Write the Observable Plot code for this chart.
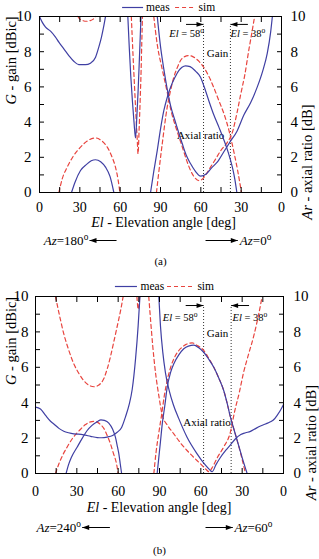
<!DOCTYPE html>
<html>
<head>
<meta charset="utf-8">
<script src="https://cdn.jsdelivr.net/npm/d3@7"></script>
<script src="https://cdn.jsdelivr.net/npm/@observablehq/plot@0.6"></script>
<style>
  html, body { margin: 0; padding: 0; background: #fff; }
  #chart { width: 319px; height: 559px; overflow: hidden; }
  #chart svg { display: block; font-family: "Liberation Serif", "Times New Roman", serif !important; }
  #chart svg text { font-family: "Liberation Serif", "Times New Roman", serif; }
</style>
</head>
<body>
<div id="chart"></div>
<script>
// Horizontal position p runs 0..180: left half is El 0→90 toward one azimuth,
// right half is El 90→0 toward the opposite azimuth.
const xTickValues = [0, 30, 60, 90, 120, 150, 180];
const xTickLabels = ["0", "30", "60", "90", "60", "30", "0"];
const yTickValues = [0, 2, 4, 6, 8, 10];
const elMarkers = [58, 38];
const legendLabels = ["meas", "sim"];

// ---- Panel (a): Az = 180° / 0°  — each series is a list of [p, value] segments
const aMeasGain = [
  [[23.8,0],[26.5,0.6],[30.5,1.25],[35,1.6],[38.5,1.8],[41.7,1.86],[45.5,1.75],[49.1,1.44],[52.5,0.9],[55.3,0]],
  [[82.6,0],[85,1.2],[87.6,2.39],[90,3.6],[92.5,4.66],[95,5.4],[97.5,5.98],[100.5,6.5],[103.6,6.93],[106,7.12],[108.6,7.2],[112,7.15],[116,6.9],[119.8,6.55],[122.3,6.05],[126,5.2],[129.7,4.4],[133.5,3.7],[137.1,3.0],[140.5,2.25],[143.4,1.45],[145.3,0.75],[146.8,0]]
];
const aMeasAxial = [
  [[0,10],[2,9.68],[4.5,9.39],[8.2,9.17],[11.9,8.83],[14.4,8.54],[18.1,8.16],[21.8,7.78],[25.5,7.46],[29.2,7.27],[34.2,7.26],[37.9,7.35],[41.7,7.69],[44.1,8.26],[46.1,8.83],[47.9,9.49],[49.1,10]],
  [[65.7,10],[66.8,8.2],[67.9,6.6],[69.1,5.2],[70.3,4.0],[71.4,3.1],[72.4,4.3],[73.3,5.7],[74.2,7.4],[75.0,9.0],[75.5,10]],
  [[87.6,10],[90,8.3],[92.5,7.0],[95,5.87],[97.5,4.93],[101.2,3.98],[106.2,2.77],[109,2.15],[112.4,1.63],[116,1.2],[119.8,0.93],[124,1.05],[128,1.4],[132.2,1.72],[137,2.3],[141.6,2.86],[147,3.5],[152,4.4],[157,5.1],[162,6.0],[166,6.9],[169.4,7.9],[171.9,9.1],[173.2,10]]
];
const aSimGain = [
  [[14.4,0],[17,0.8],[20.6,1.44],[25,2.05],[30.5,2.58],[36,2.95],[41.7,3.1],[46,2.95],[50.4,2.58],[53.5,2.1],[56.5,1.44],[58.5,0.7],[59.8,0]],
  [[87,0],[88.5,1.0],[91.3,2.77],[95,4.85],[97.5,5.8],[99.9,6.55],[102.5,7.1],[104.9,7.5],[108,7.72],[111,7.78],[114,7.72],[118,7.5],[122.3,7.1],[127.2,6.4],[129.7,5.95],[133.5,5.2],[137.1,4.5],[141,3.5],[144.6,2.3],[147.5,1.2],[150.2,0]]
];
const aSimAxial = [
  [[28.5,10],[30,9.85],[32.5,9.76],[35,9.73],[37.5,9.76],[40,9.85],[41.7,10]],
  [[68.3,10],[69.5,7.9],[70.7,6.0],[71.8,4.3],[72.7,3.0],[73.3,2.2],[74.1,3.6],[74.9,5.3],[75.6,7.0],[76.1,8.6],[76.6,10]],
  [[85,10],[87.6,8.4],[91.3,7.0],[95,5.7],[98,4.6],[101,3.8],[104,3.1],[107,2.4],[110,1.7],[113,1.15],[116,0.8],[118.5,0.68],[121,0.75],[124,1.05],[127.2,1.44],[131,1.9],[135,2.4],[139.7,2.85],[143.4,3.4],[147.1,4.6],[150,5.7],[152.5,6.6],[155.7,8.1],[158,9.1],[160,10]]
];

// ---- Panel (b): Az = 240° / 60°
const bMeasGain = [
  [[22.2,0],[24,0.5],[26,0.9],[30.3,1.5],[34,2.0],[37.5,2.43],[41,2.72],[44.8,2.92],[47.5,3.03],[50,3.0],[53.2,2.85],[56,2.5],[58,2.05],[59.5,1.5],[60.5,1.11],[61.5,0.55],[62.5,0]],
  [[88.3,0],[89.5,0.9],[90.7,1.8],[92,2.8],[93.8,3.8],[95.6,4.88],[98,5.7],[100.4,6.2],[104,6.7],[107.6,7.05],[111,7.2],[114.9,7.25],[118.5,7.1],[122.1,6.85],[125.8,6.45],[129.4,6.0],[133,5.4],[136.6,4.69],[139,4.0],[141.5,3.18],[144,2.5],[146.4,1.86],[150,0.9],[153.6,0]]
];
const bMeasAxial = [
  [[0,3.75],[3.6,3.65],[7.3,3.28],[10.9,2.95],[13.3,2.8],[17,2.55],[20.5,2.39],[24,2.3],[27.8,2.24],[31,2.22],[35,2.18],[40,2.1],[44.8,2.03],[48,2.02],[52,2.06],[56,2.15],[59.3,2.33],[62.5,2.6],[65.3,3.2],[68,3.9],[70.2,4.76],[72.6,6.46],[74.5,8.34],[75.8,10]],
  [[89.5,10],[90.7,8.34],[92.4,6.84],[94.3,5.7],[97,4.7],[100,3.9],[104,3.1],[110,2.05],[117.3,1.11],[122,0.6],[126,0.25],[128.2,0.1],[131,0.5],[134.3,0.92],[138,1.3],[141.5,1.62],[145,1.95],[149,2.2],[152.5,2.3],[156,2.38],[160,2.55],[163.3,2.68],[167,2.8],[170.5,2.92],[173,3.05],[175.5,3.3],[178,3.6],[180,3.9]]
];
const bSimGain = [
  [[14.5,0],[17,0.55],[19.5,1.0],[23,1.5],[27,2.0],[32.7,2.5],[36,2.75],[39.9,2.92],[42,2.95],[44.8,2.9],[47,2.78],[49.6,2.55],[52,2.15],[54.4,1.68],[56.5,1.15],[58.8,0.55],[60,0]],
  [[85.9,0],[87.5,1.2],[89.5,2.3],[91.5,3.3],[93.5,4.4],[96,5.4],[98.5,6.1],[101.5,6.65],[105.2,7.05],[109,7.28],[113.7,7.38],[117,7.25],[122.1,6.95],[125.8,6.5],[129.4,6.0],[133,5.4],[136.6,4.69],[139,4.0],[141.5,3.18],[144,2.5],[146.4,1.86],[149.5,0.95],[152.4,0]]
];
const bSimAxial = [
  [[14.5,10],[17.5,8.9],[20.5,7.9],[24,7.0],[27.8,6.2],[31.5,5.65],[35,5.25],[38.5,5.0],[42.5,4.9],[46,5.0],[49.5,5.35],[52,5.9],[54.4,6.6],[57,7.5],[59.7,8.46],[62,9.3],[63.6,10]],
  [[73.6,10],[74.6,9.28],[75.6,10]],
  [[82.2,10],[83.5,8.7],[85.1,7.2],[87.1,5.7],[89.5,4.4],[92,3.3],[96,2.7],[100.4,2.24],[105,1.75],[110,1.3],[115,0.9],[119.7,0.55],[123.5,0.25],[126,0.1],[128,0.3],[132,0.9],[136.6,1.5],[141.5,2.35],[144.5,3.5],[148,4.6],[151,5.7],[154.5,6.7],[158.5,7.8],[162,9.0],[164.5,10]]
];

const SERIF = '"Liberation Serif", "Times New Roman", serif';
const BLUE = "#3f3fa3";
const RED = "#e8453f";
const DASH = "4,3";

// Filled arrowhead pointing right with its tip at the origin
const arrowHead = {draw(c) { c.moveTo(0, 0); c.lineTo(-7, -2.4); c.lineTo(-7, 2.4); c.closePath(); }};

const panels = [
  {
    meas: {gain: aMeasGain, axial: aMeasAxial},
    sim: {gain: aSimGain, axial: aSimAxial},
    azLeft: "*Az*=180^o", azRight: "*Az*=0^o", caption: "(a)",
    L: {height: 276, top: 16, right: 38, bottom: 84, left: 39,
        xPad: 9.5, ylPad: 8, yrPad: 9, xTitleDy: 34, xTitleDx: 3, azDy: 48, capDy: 72,
        legendDy: -9, legMeas: [61.8, 77.4, 79.2], legSim: [101.2, 116.8, 118.3],
        arrowV: 9.55, elTextV: 9.03, elTextP: [122.4, 142.1], arrowLen: 13,
        gainLabel: [132.4, 7.9], axialLabel: [119.8, 3.24],
        azL: [57.3, 37.2, 36.3], azR: [123.5, 147.5, 149],
        ylDx: -28.5, yrDx: 26}
  },
  {
    meas: {gain: bMeasGain, axial: bMeasAxial},
    sim: {gain: bSimGain, axial: bSimAxial},
    azLeft: "*Az*=240^o", azRight: "*Az*=60^o", caption: "(b)",
    L: {height: 283, top: 20, right: 36, bottom: 86, left: 35,
        xPad: 13, ylPad: 7, yrPad: 10, xTitleDy: 38.7, xTitleDx: -0.5, azDy: 54, capDy: 80,
        legendDy: -10, legMeas: [58, 74, 76.2], legSim: [95.8, 116, 117.5],
        arrowV: 9.49, elTextV: 8.8, elTextP: [117.6, 143], arrowLen: 13,
        gainLabel: [132.1, 7.9], axialLabel: [124.5, 2.88],
        azL: [54, 33.9, 33], azR: [123.4, 143.2, 144.4],
        ylDx: -24, yrDx: 28}
  }
];

function toRows(kind, parts) {
  const rows = [];
  for (const [qty, segs] of Object.entries(parts))
    segs.forEach((seg, i) => seg.forEach(([p, v]) => rows.push({p, v, key: `${kind}-${qty}-${i}`})));
  return rows;
}

// Turn "*x*" into italic and "^o" into a raised small letter
function richText(svg) {
  d3.select(svg).selectAll("text").each(function () {
    const s = this.textContent;
    if (!/[*^]/.test(s)) return;
    const el = d3.select(this);
    el.text(null);
    const re = /\*([^*]+)\*|\^(\S)|([^*^]+)/g;
    let m;
    while ((m = re.exec(s))) {
      if (m[1]) el.append("tspan").attr("font-style", "italic").text(m[1]);
      else if (m[2]) el.append("tspan").attr("font-size", "0.72em").attr("dy", "-0.5em").text(m[2]);
      else el.append("tspan").text(m[3]);
    }
  });
}

function drawPanel(P) {
  const L = P.L;
  const meas = toRows("meas", P.meas);
  const sim = toRows("sim", P.sim);
  const el = elMarkers.map((e, i) => ({p: 180 - e, dir: i === 0 ? 1 : -1, label: `*El* = ${e}^o`, tp: L.elTextP[i]}));
  const azArrows = [
    {x1: L.azL[0], x2: L.azL[1], rot: 180},
    {x1: L.azR[0], x2: L.azR[1], rot: 0}
  ];
  const minor = d3.range(0, 181, 15);
  const yMinor = d3.range(0, 11, 1);

  const svg = Plot.plot({
    width: 319,
    height: L.height,
    marginTop: L.top, marginRight: L.right, marginBottom: L.bottom, marginLeft: L.left,
    style: `font-family: ${SERIF}; font-size: 15px; color: #000; background: #fff; overflow: visible;`,
    x: {domain: [0, 180]},
    y: {domain: [0, 10]},
    marks: [
      // elevation markers
      Plot.ruleX(el, {x: "p", y1: 0, y2: L.arrowV, stroke: "#333", strokeWidth: 1, strokeDasharray: "1,2"}),
      Plot.link(el, {x1: d => d.p - d.dir * L.arrowLen, x2: "p", y1: L.arrowV, y2: L.arrowV, stroke: "#000", strokeWidth: 1}),
      Plot.dot(el, {x: "p", y: L.arrowV, symbol: arrowHead, rotate: d => d.dir > 0 ? 0 : 180, fill: "#000"}),
      Plot.text(el.filter(d => d.dir > 0), {x: "tp", y: L.elTextV, text: "label", textAnchor: "end", fontSize: 10.5}),
      Plot.text(el.filter(d => d.dir < 0), {x: "tp", y: L.elTextV, text: "label", textAnchor: "start", fontSize: 10.5}),
      Plot.text(["Gain"], {x: L.gainLabel[0], y: L.gainLabel[1], text: d => d, fontSize: 11}),
      Plot.text(["Axial ratio"], {x: L.axialLabel[0], y: L.axialLabel[1], text: d => d, fontSize: 11}),

      // curves
      Plot.line(sim, {x: "p", y: "v", z: "key", stroke: RED, strokeWidth: 1.2, strokeDasharray: DASH, curve: "monotone-x"}),
      Plot.line(meas, {x: "p", y: "v", z: "key", stroke: BLUE, strokeWidth: 1.2, curve: "monotone-x"}),

      // frame and axes
      Plot.frame({stroke: "#000", strokeWidth: 1}),
      Plot.axisX({anchor: "bottom", ticks: minor, tickSize: -5, tickFormat: () => "", label: null}),
      Plot.axisX({anchor: "top", ticks: minor, tickSize: -5, tickFormat: () => "", label: null}),
      Plot.axisY({anchor: "left", ticks: yMinor, tickSize: -5, tickFormat: () => "", label: null}),
      Plot.axisY({anchor: "right", ticks: yMinor, tickSize: -5, tickFormat: () => "", label: null}),
      Plot.axisX({anchor: "bottom", ticks: xTickValues, tickSize: 0, tickPadding: L.xPad, fontSize: 14,
                  tickFormat: d => xTickLabels[xTickValues.indexOf(d)], label: null}),
      Plot.axisY({anchor: "left", ticks: yTickValues, tickSize: 0, tickPadding: L.ylPad, fontSize: 15, label: null}),
      Plot.axisY({anchor: "right", ticks: yTickValues, tickSize: 0, tickPadding: L.yrPad, fontSize: 15, label: null}),

      // axis titles
      Plot.text(["*El* - Elevation angle [deg]"], {x: 90, frameAnchor: "bottom", text: d => d, dx: L.xTitleDx, dy: L.xTitleDy, fontSize: 14}),
      Plot.text(["*G* - gain [dBic]"], {frameAnchor: "left", text: d => d, rotate: -90, dx: L.ylDx, fontSize: 14.5}),
      Plot.text(["*Ar* - axial ratio [dB]"], {frameAnchor: "right", text: d => d, rotate: -90, dx: L.yrDx, fontSize: 14.5}),

      // azimuth direction row
      Plot.link(azArrows, {x1: "x1", x2: "x2", y1: 0, y2: 0, dy: L.azDy, stroke: "#000", strokeWidth: 1}),
      Plot.dot(azArrows, {x: "x2", y: 0, dy: L.azDy, symbol: arrowHead, rotate: "rot", fill: "#000"}),
      Plot.text([P.azLeft], {x: L.azL[2], y: 0, text: d => d, dy: L.azDy, textAnchor: "end", fontSize: 13}),
      Plot.text([P.azRight], {x: L.azR[2], y: 0, text: d => d, dy: L.azDy, textAnchor: "start", fontSize: 13}),

      // legend
      Plot.ruleY([10], {x1: L.legMeas[0], x2: L.legMeas[1], dy: L.legendDy, stroke: BLUE, strokeWidth: 1.2}),
      Plot.ruleY([10], {x1: L.legSim[0], x2: L.legSim[1], dy: L.legendDy, stroke: RED, strokeWidth: 1.2, strokeDasharray: DASH}),
      Plot.text([legendLabels[0]], {x: L.legMeas[2], y: 10, text: d => d, dy: L.legendDy, textAnchor: "start", fontSize: 11.5}),
      Plot.text([legendLabels[1]], {x: L.legSim[2], y: 10, text: d => d, dy: L.legendDy, textAnchor: "start", fontSize: 11.5}),

      // caption
      Plot.text([P.caption], {x: 90, frameAnchor: "bottom", text: d => d, dy: L.capDy, fontSize: 11})
    ]
  });
  d3.select(svg).attr("font-family", SERIF);
  richText(svg);
  return svg;
}

const chart = document.getElementById("chart");
for (const P of panels) chart.append(drawPanel(P));
</script>
</body>
</html>
